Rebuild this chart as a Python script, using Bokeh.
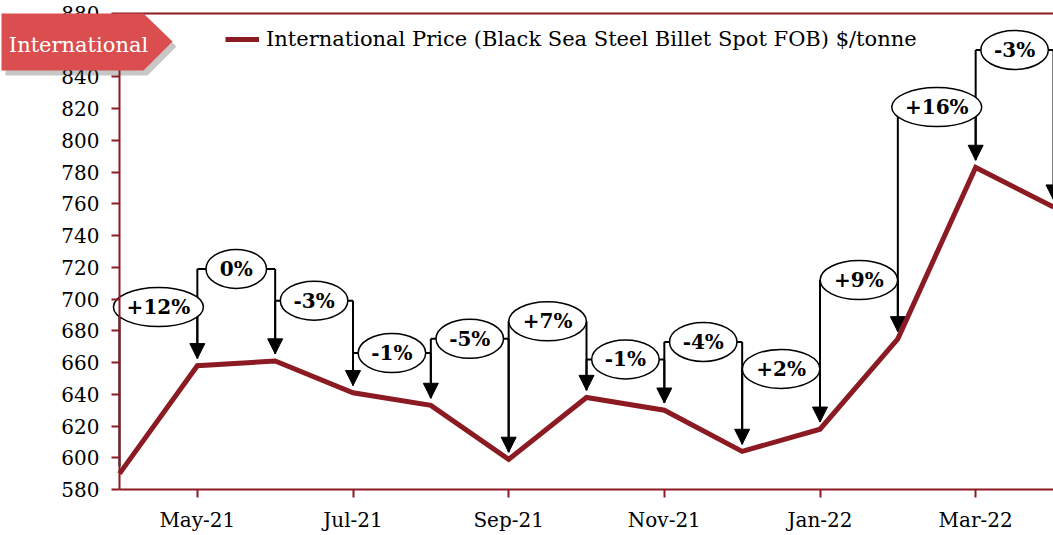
from bokeh.plotting import figure
from bokeh.models import (Range1d, FixedTicker, Legend, LegendItem, Arrow, NormalHead,
                          ColumnDataSource, PolyAnnotation, Label, LinearAxis)
from bokeh.core.properties import value
from bokeh.embed import file_html
from bokeh.resources import INLINE

# ---------------- data ----------------
months = ["Apr-21", "May-21", "Jun-21", "Jul-21", "Aug-21", "Sep-21", "Oct-21",
          "Nov-21", "Dec-21", "Jan-22", "Feb-22", "Mar-22", "Apr-22"]
prices = [590, 658, 661, 641, 633, 599, 638, 630, 604, 618, 675, 783, 758]
change_labels = ["+12%", "0%", "-3%", "-1%", "-5%", "+7%", "-1%", "-4%", "+2%",
                 "+9%", "+16%", "-3%"]
label_levels = [695, 719, 699, 666, 675, 686, 662, 673, 656, 712, 821, 857]
tick_months = ["May-21", "Jul-21", "Sep-21", "Nov-21", "Jan-22", "Mar-22"]
y_ticks = list(range(580, 881, 20))
series_name = "International Price (Black Sea Steel Billet Spot FOB) $/tonne"
banner_text = "International"

# ---------------- style / layout ----------------
RED = "#8B1A22"
BANNER = "#DA4E4F"
FONT = "DejaVu Serif"
GAP = 4.5
W, H = 1053, 535
AX_LEFT, AX_TOP, AX_BOTTOM = 119, 13, 489   # px positions of the axes box

last = len(months) - 1
x_start = -AX_LEFT * last / (W - AX_LEFT)
ys_per_px = (y_ticks[-1] - y_ticks[0]) / (AX_BOTTOM - AX_TOP)
y_end = y_ticks[-1] + AX_TOP * ys_per_px
y_start = y_ticks[0] - (H - AX_BOTTOM) * ys_per_px

xs = list(range(len(months)))
p = figure(width=W, height=H, output_backend="svg", toolbar_location=None,
           x_range=Range1d(x_start, last), y_range=Range1d(y_start, y_end),
           min_border_left=0, min_border_right=0, min_border_top=0, min_border_bottom=0)
p.grid.visible = False
p.outline_line_color = None
p.background_fill_color = "white"
p.border_fill_color = "white"

# axes
p.yaxis.fixed_location = 0
p.yaxis.bounds = (y_ticks[0], y_ticks[-1])
p.yaxis.ticker = FixedTicker(ticks=y_ticks)
p.xaxis.fixed_location = y_ticks[0]
p.xaxis.bounds = (0, last)
p.xaxis.ticker = FixedTicker(ticks=[months.index(m) for m in tick_months])
p.xaxis.major_label_overrides = {months.index(m): m for m in tick_months}
for ax in (p.xaxis, p.yaxis):
    ax.axis_line_color = RED
    ax.axis_line_width = 2
    ax.major_tick_line_color = RED
    ax.major_tick_line_width = 2
    ax.major_tick_in = 0
    ax.major_tick_out = 8
    ax.minor_tick_line_color = None
    ax.major_label_text_font = FONT
    ax.major_label_text_font_size = "20px"
    ax.major_label_text_color = "black"
p.yaxis.major_label_standoff = 12
p.xaxis.major_label_standoff = 10

top_axis = LinearAxis(fixed_location=y_ticks[-1], bounds=(0, last + 1),
                      ticker=FixedTicker(ticks=[]), axis_line_color=RED, axis_line_width=2,
                      major_tick_line_color=None, minor_tick_line_color=None,
                      major_label_text_font_size="0px")
p.add_layout(top_axis, "above")

# bracket annotations
n = len(change_labels)
h_src = ColumnDataSource(dict(x0=[i for i in range(n)], x1=[i + 1 for i in range(n)],
                              y=label_levels))
p.segment(x0="x0", y0="y", x1="x1", y1="y", source=h_src, line_color="black", line_width=2)
v_src = ColumnDataSource(dict(x=[i for i in range(n)], y0=label_levels,
                              y1=[prices[i] + GAP for i in range(n)]))
p.segment(x0="x", y0="y0", x1="x", y1="y1", source=v_src, line_color="black", line_width=2)
a_src = ColumnDataSource(dict(x=[i + 1 for i in range(n)], y0=label_levels,
                              y1=[prices[i + 1] + GAP for i in range(n)]))
p.add_layout(Arrow(end=NormalHead(size=15, fill_color="black", line_color="black", line_width=1),
                   x_start="x", y_start="y0", x_end="x", y_end="y1", source=a_src,
                   line_color="black", line_width=2, level="underlay"))

# main line
r = p.line(xs, prices, line_color=RED, line_width=5, line_join="miter")


def text_w(s):
    return sum({"+": 17, "-": 7, "%": 18}.get(c, 12.5) for c in s) + 30


e_src = ColumnDataSource(dict(cx=[i + 0.5 for i in range(n)], cy=label_levels,
                              w=[text_w(s) for s in change_labels], label=change_labels))
p.ellipse(x="cx", y="cy", width="w", height=39, width_units="screen", height_units="screen",
          source=e_src, fill_color="white", line_color="black", line_width=1.5)
p.text(x="cx", y="cy", text="label", source=e_src, text_font=value(FONT),
       text_font_style="bold", text_font_size="20px", text_align="center",
       text_baseline="middle", text_color="black")

# legend (screen px from the frame's bottom-left)
legend = Legend(items=[LegendItem(label=series_name, renderers=[r])], location=(225, H - 51),
                background_fill_alpha=0, border_line_alpha=0, padding=0, margin=0,
                glyph_width=34, label_standoff=7, label_text_font=FONT,
                label_text_font_size="21px", label_text_color="black")
p.add_layout(legend)

# banner (screen px; y measured up from the bottom of the canvas)
bx = [1, 143, 172, 143, 1]
by = [H - 13, H - 13, H - 41, H - 70, H - 70]
p.add_layout(PolyAnnotation(xs=[v + 4 for v in bx], ys=[v - 5 for v in by], xs_units="screen",
                            ys_units="screen", fill_color="#444444", fill_alpha=0.3,
                            line_color=None, level="overlay"))
p.add_layout(PolyAnnotation(xs=bx, ys=by, xs_units="screen", ys_units="screen",
                            fill_color=BANNER, fill_alpha=1, line_color=None, level="overlay"))
p.add_layout(Label(x=78, y=H - 44, x_units="screen", y_units="screen", text=banner_text,
                   text_color="white", text_font=FONT, text_font_size="21px",
                   text_align="center", text_baseline="middle", level="overlay"))

open("out.html", "w").write(file_html(p, INLINE))
